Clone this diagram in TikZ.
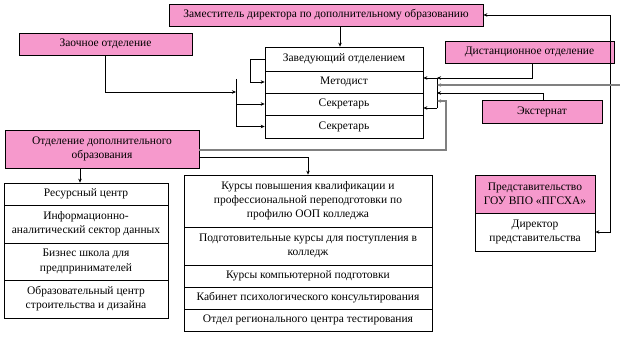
\documentclass[tikz,border=0pt]{standalone}
\usepackage{fontspec}
\setmainfont{Liberation Serif}
\usetikzlibrary{arrows.meta,shadows}
\definecolor{pinkf}{RGB}{246,153,204}
\begin{document}
\begin{tikzpicture}[x=1pt,y=-1pt,
 base/.style={draw=black, line width=0.7pt, inner sep=0pt, align=center, font=\fontsize{11.5}{14.2}\selectfont},
 pbox/.style={base, fill=pinkf, drop shadow={shadow xshift=1.3pt, shadow yshift=-1.3pt, fill=gray!80, opacity=1}},
 wbox/.style={base, fill=white},
 arr/.style={draw, line width=0.7pt, -{Stealth[length=4pt,width=3.5pt]}},
 biarr/.style={draw, line width=0.7pt, {Stealth[length=4pt,width=3.5pt]}-{Stealth[length=4pt,width=3.5pt]}},
 garr/.style={draw=gray, line width=1.1pt, -{Stealth[length=4pt,width=3.5pt]}},
 ln/.style={draw, line width=0.7pt}]
\useasboundingbox[fill=white] (0,0) rectangle (620,339);

% pink boxes
\node[pbox, minimum width=314pt, minimum height=22pt] (top) at (326,15) {Заместитель директора по дополнительному образованию};
\node[pbox, minimum width=173pt, minimum height=22pt] (zao) at (105.5,44) {Заочное отделение};
\node[pbox, minimum width=169pt, minimum height=22pt] (dist) at (529.5,52) {Дистанционное отделение};
\node[pbox, minimum width=120pt, minimum height=23pt] (ext) at (542,111.5) {Экстернат};
\node[pbox, minimum width=194pt, minimum height=38pt] (otd) at (102,149) {Отделение дополнительного\\образования};
\node[pbox, minimum width=120pt, minimum height=38pt] (pred) at (535,194) {Представительство\\ГОУ ВПО «ПГСХА»};

% central block
\node[wbox, minimum width=158pt, minimum height=24pt] (zav) at (344,59) {Заведующий отделением};
\node[wbox, minimum width=158pt, minimum height=22pt] (met) at (344,82) {Методист};
\node[wbox, minimum width=158pt, minimum height=22pt] (sek1) at (344,104) {Секретарь};
\node[wbox, minimum width=158pt, minimum height=23pt] (sek2) at (344,126.5) {Секретарь};

% left block
\node[wbox, minimum width=164pt, minimum height=22pt] (res) at (86,194) {Ресурсный центр};
\node[wbox, minimum width=164pt, minimum height=38pt] (info) at (86,224) {Информационно-\\аналитический сектор данных};
\node[wbox, minimum width=164pt, minimum height=37pt] (biz) at (86,261.5) {Бизнес школа для\\предпринимателей};
\node[wbox, minimum width=164pt, minimum height=38pt] (obr) at (86,299) {Образовательный центр\\строительства и дизайна};

% courses block
\node[wbox, minimum width=248pt, minimum height=52pt] (k1) at (308,201) {Курсы повышения квалификации и\\профессиональной переподготовки по\\профилю ООП колледжа};
\node[wbox, minimum width=248pt, minimum height=38pt] (k2) at (308,246) {Подготовительные курсы для поступления в\\колледж};
\node[wbox, minimum width=248pt, minimum height=22pt] (k3) at (308,276) {Курсы компьютерной подготовки};
\node[wbox, minimum width=248pt, minimum height=22pt] (k4) at (308,298) {Кабинет психологического консультирования};
\node[wbox, minimum width=248pt, minimum height=22pt] (k5) at (308,320) {Отдел регионального центра тестирования};

% representative director
\node[wbox, minimum width=120pt, minimum height=38pt] (dir) at (535,232) {Директор\\представительства};

% connectors
\coordinate (tx) at (340,0);
\draw[arr] (top.south -| tx) -- (zav.north -| tx);
\coordinate (rc) at (610,15);
\draw[biarr] (top.east) -- (rc) |- (dir.east);

\coordinate (lbt) at (236,79);
\coordinate (lbb) at (236,126.5);
\coordinate (lbi) at (236,92);
\draw[ln] (lbt) -- (lbb);
\draw[arr] (zao.south) |- (lbi);
\draw[arr] (sek1.west -| lbt) -- (sek1.west);
\draw[arr] (lbb) -- (sek2.west);
\draw[arr] (zav.west) -- ++(-14,0) |- (met.west);

\coordinate (rbt) at (437,78);
\coordinate (rbb) at (437,108);
\draw[ln] (rbt) -- (rbb);
\draw[arr] (rbt) -- (rbt -| met.east);
\draw[arr] (rbb) -- (rbb -| sek1.east);
\coordinate (d1) at (532,78);
\draw[arr] (dist.south -| d1) -- (d1) -- (rbt);
\coordinate (ge) at (620,85);
\draw[garr] (ge) -- (ge -| rbt);
\coordinate (e1) at (543,93);
\draw[arr] (ext.north -| e1) -- (e1) -- (e1 -| rbt);
\coordinate (g1) at (446,150);
\coordinate (g2) at (446,101);
\draw[garr] (otd.east |- g1) -- (g1) -- (g2) -- (g2 -| rbt);
\coordinate (o1) at (308,157);
\draw[arr] (otd.east |- o1) -- (o1) -- (k1.north);
\coordinate (o2) at (80,0);
\draw[arr] (otd.south -| o2) -- (res.north -| o2);
\end{tikzpicture}
\end{document}
